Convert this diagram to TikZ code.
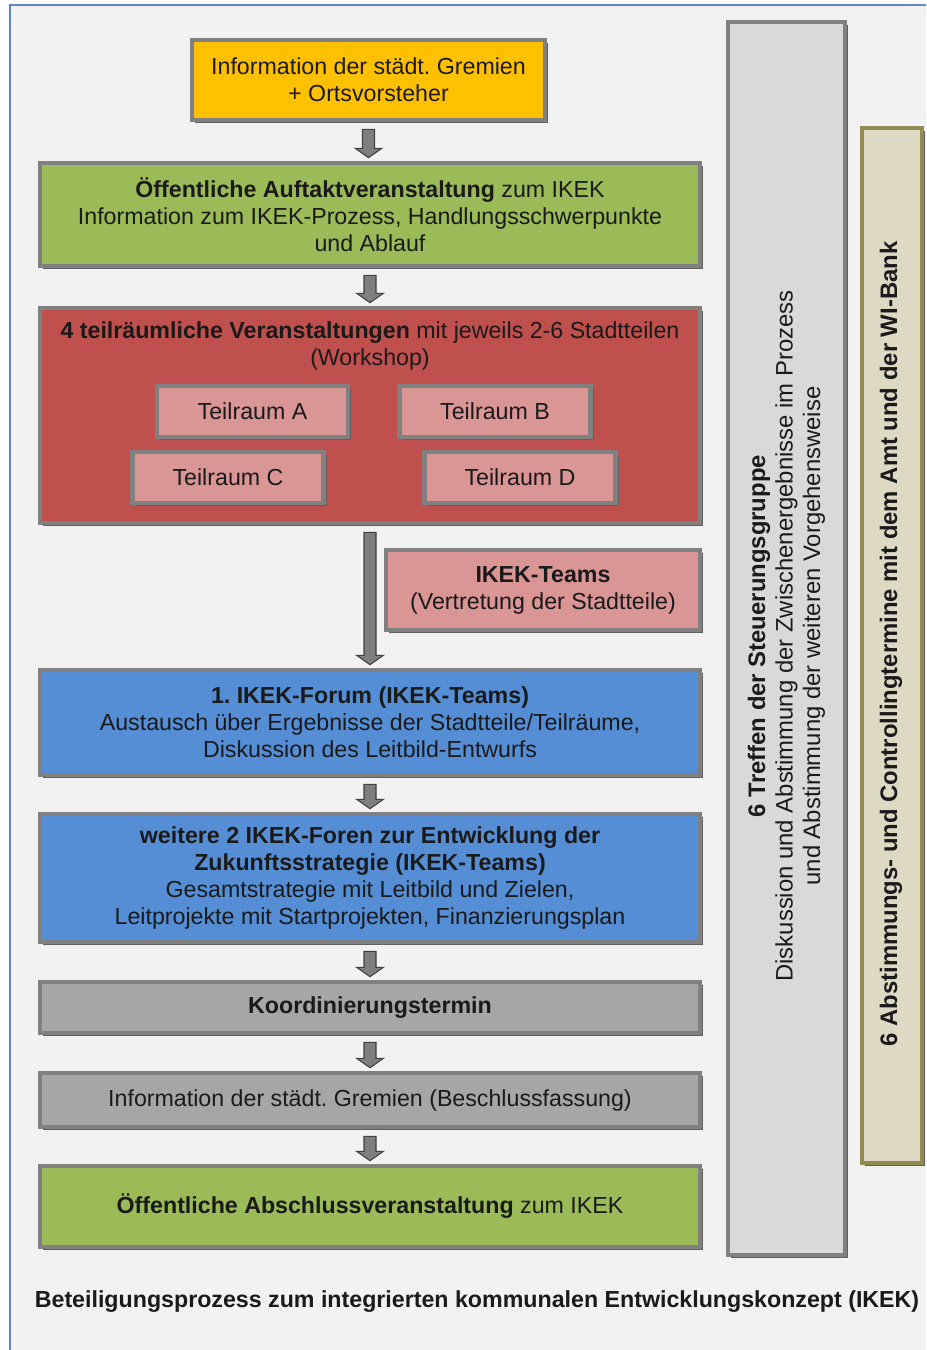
\documentclass[tikz,border=0pt]{standalone}
\usepackage{fontspec}
\setmainfont{Liberation Sans}
\usetikzlibrary{calc}
\frenchspacing
\definecolor{frameblue}{HTML}{5B87C5}
\definecolor{bgc}{HTML}{F2F2F2}
\definecolor{yel}{HTML}{FFC000}
\definecolor{grn}{HTML}{9BBB59}
\definecolor{redc}{HTML}{C0504D}
\definecolor{pinkc}{HTML}{D99694}
\definecolor{bluc}{HTML}{558ED5}
\definecolor{grayb}{HTML}{A6A6A6}
\definecolor{grayl}{HTML}{D9D9D9}
\definecolor{tanf}{HTML}{DDD9C3}
\definecolor{tanb}{HTML}{948A54}
\definecolor{bord}{HTML}{808080}
\definecolor{shad}{HTML}{5F5F5F}
\definecolor{txt}{HTML}{1A1A1A}
\definecolor{arrf}{HTML}{7F7F7F}
\definecolor{arrb}{HTML}{404040}
\tikzset{
  box/.style={draw=bord, line width=3.5pt, rectangle, align=center, text=txt,
    inner sep=0pt,
    font=\fontsize{17.4}{20.25}\selectfont,
    preaction={fill=shad, transform canvas={shift={(2.5pt,-2.5pt)}}}},
  lbl/.style={align=center, text=txt, inner sep=0pt, font=\fontsize{17.4}{20.25}\selectfont},
  vlbl/.style={align=center, text=txt, inner sep=0pt, rotate=90, font=\fontsize{17.9}{20.6}\selectfont},
  blockarr/.style={fill=arrf, draw=arrb, line width=0.8pt, line join=miter}
}
\newcommand{\blockarrow}[2]{%
  \path let \p1=($(#1.south)+(0,7)$), \p2=($(#2.north)+(0,-3)$) in
    [blockarr] (\x1-4.5pt,\y1) -- (\x1+4.5pt,\y1) -- (\x1+4.5pt,\y2+7pt) --
    (\x1+10pt,\y2+7pt) -- (\x1,\y2) -- (\x1-10pt,\y2+7pt) --
    (\x1-4.5pt,\y2+7pt) -- cycle;}
\begin{document}
\begin{tikzpicture}[x=0.75pt,y=-0.75pt]
\useasboundingbox (0,0) rectangle (926,1350);
\fill[white] (0,0) rectangle (926,1350);
\fill[bgc] (10,5) rectangle (926,1350);
\draw[frameblue, line width=2.2pt] (10,1350) -- (10,5) -- (926,5);

% right columns
\node[box, fill=grayl, minimum width=87.75pt, minimum height=924.75pt] (steuer) at (786.5,638.5) {};
\node[vlbl] (steuertxt) at (786.5,636) {\textbf{6 Treffen der Steuerungsgruppe}\\Diskussion und Abstimmung der Zwischenergebnisse im Prozess\\und Abstimmung der weiteren Vorgehensweise};
\node[box, draw=tanb, fill=tanf, minimum width=45pt, minimum height=776.25pt] (wibank) at (892,645.5) {};
\node[vlbl, font=\fontsize{17.9}{20.6}\selectfont\bfseries] (wibanktxt) at (891,644) {6 Abstimmungs- und Controllingtermine mit dem Amt und der WI-Bank};

% main flow
\node[box, fill=yel, minimum width=264.75pt, minimum height=60pt] (info1) at (368.5,80) {Information der städt. Gremien\\+ Ortsvorsteher};
\node[box, fill=grn, minimum width=495pt, minimum height=77.25pt] (auftakt) at (370,214.5) {\textbf{Öffentliche Auftaktveranstaltung} zum IKEK\\Information zum IKEK-Prozess, Handlungsschwerpunkte\\und Ablauf};
\node[box, fill=redc, minimum width=495pt, minimum height=161.25pt] (teilr) at (370,415.5) {};
\node[lbl] (teilrtxt) at (370,345.5) {\textbf{4 teilräumliche Veranstaltungen} mit jeweils 2-6 Stadtteilen\\(Workshop)};
\node[box, fill=pinkc, minimum width=143.25pt, minimum height=38.25pt] (ta) at (252.5,411.5) {Teilraum A};
\node[box, fill=pinkc, minimum width=143.25pt, minimum height=38.25pt] (tb) at (495,411.5) {Teilraum B};
\node[box, fill=pinkc, minimum width=143.25pt, minimum height=38.25pt] (tc) at (228,477.5) {Teilraum C};
\node[box, fill=pinkc, minimum width=143.25pt, minimum height=38.25pt] (td) at (520,477.5) {Teilraum D};
\node[box, fill=pinkc, minimum width=235.5pt, minimum height=60pt] (teams) at (543,590) {\textbf{IKEK-Teams}\\(Vertretung der Stadtteile)};
\node[box, fill=bluc, minimum width=495pt, minimum height=78.75pt] (forum1) at (370,722.5) {\textbf{1. IKEK-Forum (IKEK-Teams)}\\Austausch über Ergebnisse der Stadtteile/Teilräume,\\Diskussion des Leitbild-Entwurfs};
\node[box, fill=bluc, minimum width=495pt, minimum height=96pt] (forum2) at (370,878) {\textbf{weitere 2 IKEK-Foren zur Entwicklung der}\\\textbf{Zukunftsstrategie (IKEK-Teams)}\\Gesamtstrategie mit Leitbild und Zielen,\\Leitprojekte mit Startprojekten, Finanzierungsplan};
\node[box, fill=grayb, minimum width=495pt, minimum height=38.25pt] (koord) at (370,1007.5) {\textbf{Koordinierungstermin}};
\node[box, fill=grayb, minimum width=495pt, minimum height=40.5pt] (info2) at (370,1100) {Information der städt. Gremien (Beschlussfassung)};
\node[box, fill=grn, minimum width=495pt, minimum height=60.75pt] (abschluss) at (370,1206.5) {\textbf{Öffentliche Abschlussveranstaltung} zum IKEK};

% arrows
\blockarrow{info1}{auftakt}
\blockarrow{auftakt}{teilr}
\blockarrow{teilr}{forum1}
\blockarrow{forum1}{forum2}
\blockarrow{forum2}{koord}
\blockarrow{koord}{info2}
\blockarrow{info2}{abschluss}

% caption
\node[lbl, font=\fontsize{17.4}{20.25}\selectfont\bfseries] (caption) at (477,1302) {Beteiligungsprozess zum integrierten kommunalen Entwicklungskonzept (IKEK)};
\end{tikzpicture}
\end{document}
